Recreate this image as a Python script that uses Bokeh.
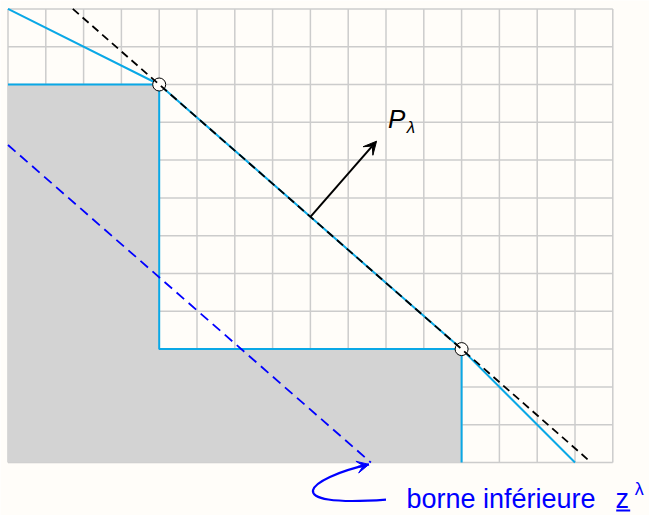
from bokeh.plotting import figure
from bokeh.models import Range1d, Arrow, VeeHead
from bokeh.core.properties import value
from bokeh.embed import file_html
from bokeh.resources import INLINE

# ---- data (grid units) ----
grid_x = list(range(0, 17))
grid_y = list(range(0, 13))
region_x = [0, 0, 4, 4, 12, 12]
region_y = [0, 10, 10, 3, 3, 0]
border_x = [0, 4, 4, 12, 12]
border_y = [10, 10, 3, 3, 0]
hull_x = [0, 4, 12, 15]
hull_y = [12, 10, 3, 0]
breaks_x = [4, 12]
breaks_y = [10, 3]
plambda_x = [4 - 2 * 8 / 7, 12 + 3 * 8 / 7]
plambda_y = [12, 0]
lower_x = [0, 9.6]
lower_y = [8.4, 0]
normal_start = (8.0, 6.5)
normal_end = (9.75, 8.5)
hook = dict(x0=[10.0], y0=[-0.98], cx0=[7.1], cy0=[-1.2],
            cx1=[7.9], cy1=[-0.42], x1=[9.55], y1=[-0.05])
label_p = (10.05, 9.08)
label_sub = (10.55, 8.86)
label_borne = (10.54, -0.97)
label_z = (16.07, -0.97)
underline_z = (16.09, 16.46, -1.27)
label_zsup = (16.58, -0.70)

CELL = 37.8
W, H = 649, 515
X0 = -7.5 / CELL
Y1 = 462 / CELL
BG = "#fffdf9"

p = figure(width=W, height=H, output_backend="svg", toolbar_location=None,
           x_axis_type=None, y_axis_type=None, min_border=0,
           x_range=Range1d(X0, X0 + W / CELL), y_range=Range1d(Y1 - H / CELL, Y1))
p.background_fill_color = BG
p.border_fill_color = BG
p.outline_line_color = None

# grid
p.segment(x0=grid_x, y0=[0] * len(grid_x), x1=grid_x, y1=[12] * len(grid_x),
          line_color="#cccccc", line_width=1.5)
p.segment(x0=[0] * len(grid_y), y0=grid_y, x1=[16] * len(grid_y), y1=grid_y,
          line_color="#cccccc", line_width=1.5)

# shaded region
p.patch(region_x, region_y, fill_color="#d3d3d3", line_color=None)
p.line(border_x, border_y, line_color="#0aa8e6", line_width=2)
p.line(hull_x, hull_y, line_color="#0aa8e6", line_width=2)

# points
p.scatter(breaks_x, breaks_y, size=13, fill_color=BG, line_color="black", line_width=1)

# dashed lines
p.line(plambda_x, plambda_y, line_color="black", line_width=1.8, line_dash="8 5")
p.line(lower_x, lower_y, line_color="#0000ff", line_width=1.8, line_dash="10 6")

# normal arrow
p.add_layout(Arrow(x_start=normal_start[0], y_start=normal_start[1],
                   x_end=normal_end[0], y_end=normal_end[1],
                   line_color="black", line_width=2,
                   end=VeeHead(size=13, fill_color="black", line_color="black", line_width=1)))

# hook arrow
p.bezier(source=hook, x0="x0", y0="y0", x1="x1", y1="y1", cx0="cx0", cy0="cy0",
         cx1="cx1", cy1="cy1", line_color="#0000ff", line_width=2.2)
p.add_layout(Arrow(x_start=hook["x1"][0] - 0.3, y_start=hook["y1"][0] - 0.07,
                   x_end=hook["x1"][0], y_end=hook["y1"][0],
                   line_color="#0000ff", line_width=2.2,
                   end=VeeHead(size=12, fill_color="#0000ff", line_color="#0000ff", line_width=1)))

# labels
FONT = value("Liberation Sans")
p.text(x=[label_p[0]], y=[label_p[1]], text=["P"], text_font=FONT, text_font_size="26px",
       text_font_style="italic", text_color="black", text_baseline="alphabetic")
p.text(x=[label_sub[0]], y=[label_sub[1]], text=["λ"], text_font=FONT, text_font_size="17px",
       text_font_style="italic", text_color="black", text_baseline="alphabetic")
p.text(x=[label_borne[0]], y=[label_borne[1]], text=["borne inférieure"], text_font=FONT,
       text_font_size="27px", text_color="#0000ff", text_baseline="alphabetic")
p.text(x=[label_z[0]], y=[label_z[1]], text=["z"], text_font=FONT,
       text_font_size="27px", text_color="#0000ff", text_baseline="alphabetic")
p.segment(x0=[underline_z[0]], y0=[underline_z[2]], x1=[underline_z[1]],
          y1=[underline_z[2]], line_color="#0000ff", line_width=2)
p.text(x=[label_zsup[0]], y=[label_zsup[1]], text=["λ"], text_font=FONT,
       text_font_size="18px", text_color="#0000ff", text_baseline="alphabetic")

open("out.html", "w").write(file_html(p, INLINE))
